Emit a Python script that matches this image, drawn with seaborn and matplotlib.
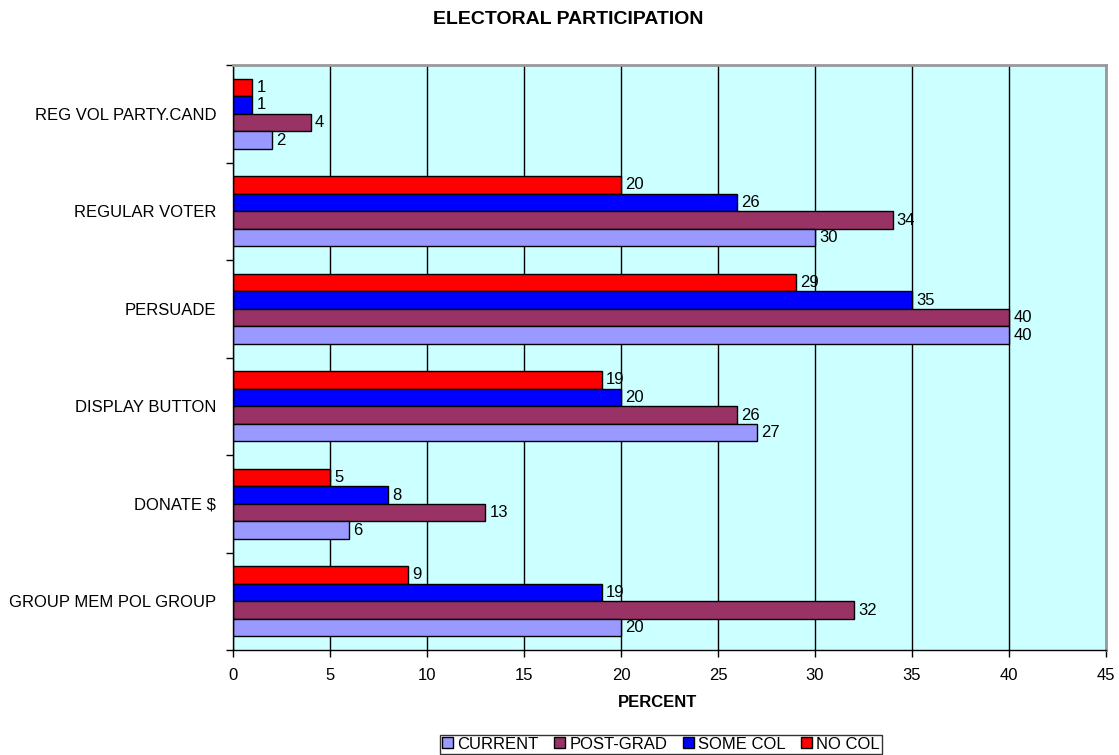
import matplotlib
matplotlib.use("Agg")
import matplotlib.pyplot as plt
import seaborn as sns
import pandas as pd
from matplotlib.patches import Patch
from matplotlib.ticker import FixedLocator, MultipleLocator

categories = ["REG VOL PARTY.CAND", "REGULAR VOTER", "PERSUADE",
              "DISPLAY BUTTON", "DONATE $", "GROUP MEM POL GROUP"]
no_col = [1, 20, 29, 19, 5, 9]
some_col = [1, 26, 35, 20, 8, 19]
post_grad = [4, 34, 40, 26, 13, 32]
current = [2, 30, 40, 27, 6, 20]

series = {"NO COL": no_col, "SOME COL": some_col,
          "POST-GRAD": post_grad, "CURRENT": current}
colors = {"CURRENT": "#9999FF", "POST-GRAD": "#993366",
          "SOME COL": "#0000FF", "NO COL": "#FF0000"}
legend_order = ["CURRENT", "POST-GRAD", "SOME COL", "NO COL"]

rows = []
for name, vals in series.items():
    for cat, v in zip(categories, vals):
        rows.append({"category": cat, "group": name, "value": v})
df = pd.DataFrame(rows)

sns.set_style("white")
plt.rcParams["font.family"] = ["Liberation Sans", "DejaVu Sans"]
plt.rcParams["text.color"] = "black"
plt.rcParams["xtick.color"] = "black"
plt.rcParams["ytick.color"] = "black"
plt.rcParams["xtick.labelcolor"] = "black"
plt.rcParams["ytick.labelcolor"] = "black"
FS = 12

fig = plt.figure(figsize=(11.19, 7.55), dpi=100)
ax = fig.add_axes([0.2082, 0.139, 0.7802, 0.7749])
ax.set_facecolor("#CCFFFF")

sns.barplot(data=df, y="category", x="value", hue="group",
            order=categories, hue_order=list(series.keys()),
            palette=colors, orient="h", width=0.72, gap=0,
            edgecolor="black", linewidth=1, saturation=1,
            legend=False, ax=ax)

for cont in ax.containers:
    ax.bar_label(cont, padding=3, fontsize=FS, color="black")

ax.set_xlim(0, 45)
ax.xaxis.set_major_locator(MultipleLocator(5))
ax.set_ylim(len(categories) - 0.5, -0.5)
ax.grid(axis="x", color="black", linewidth=1)
ax.grid(axis="y", visible=False)
ax.set_axisbelow(True)

# category labels centred, tick marks on group boundaries
ax.tick_params(axis="y", which="major", length=0, labelsize=FS, pad=12,
               labelcolor="black")
ax.yaxis.set_minor_locator(FixedLocator([i - 0.5 for i in range(len(categories) + 1)]))
ax.tick_params(axis="y", which="minor", length=5, width=1, color="black", direction="out", left=True)
ax.tick_params(axis="x", length=5, width=1, color="black", direction="out",
               bottom=True, labelsize=FS, pad=8, labelcolor="black")

for side in ["left", "bottom"]:
    ax.spines[side].set_color("black")
    ax.spines[side].set_linewidth(1)
for side in ["top", "right"]:
    ax.spines[side].set_color("#999999")
    ax.spines[side].set_linewidth(2)

ax.set_ylabel("")
ax.set_xlabel("")
fig.text(0.588, 0.069, "PERCENT", ha="center", va="center",
         fontsize=FS, fontweight="bold", color="black")
fig.text(0.5075, 0.974, "ELECTORAL PARTICIPATION", ha="center", va="center",
         fontsize=14, fontweight="bold", color="black")

handles = [Patch(facecolor=colors[n], edgecolor="black", linewidth=1, label=n)
           for n in legend_order]
leg = fig.legend(handles=handles, loc="center", bbox_to_anchor=(0.5907, 0.0145),
                 ncol=4, frameon=True, fancybox=False, edgecolor="black",
                 fontsize=FS, handlelength=0.65, handleheight=0.65,
                 handletextpad=0.25, columnspacing=0.95, borderpad=0.12,
                 borderaxespad=0)
for t in leg.get_texts():
    t.set_color("black")

fig.savefig("out.png", dpi=100)
